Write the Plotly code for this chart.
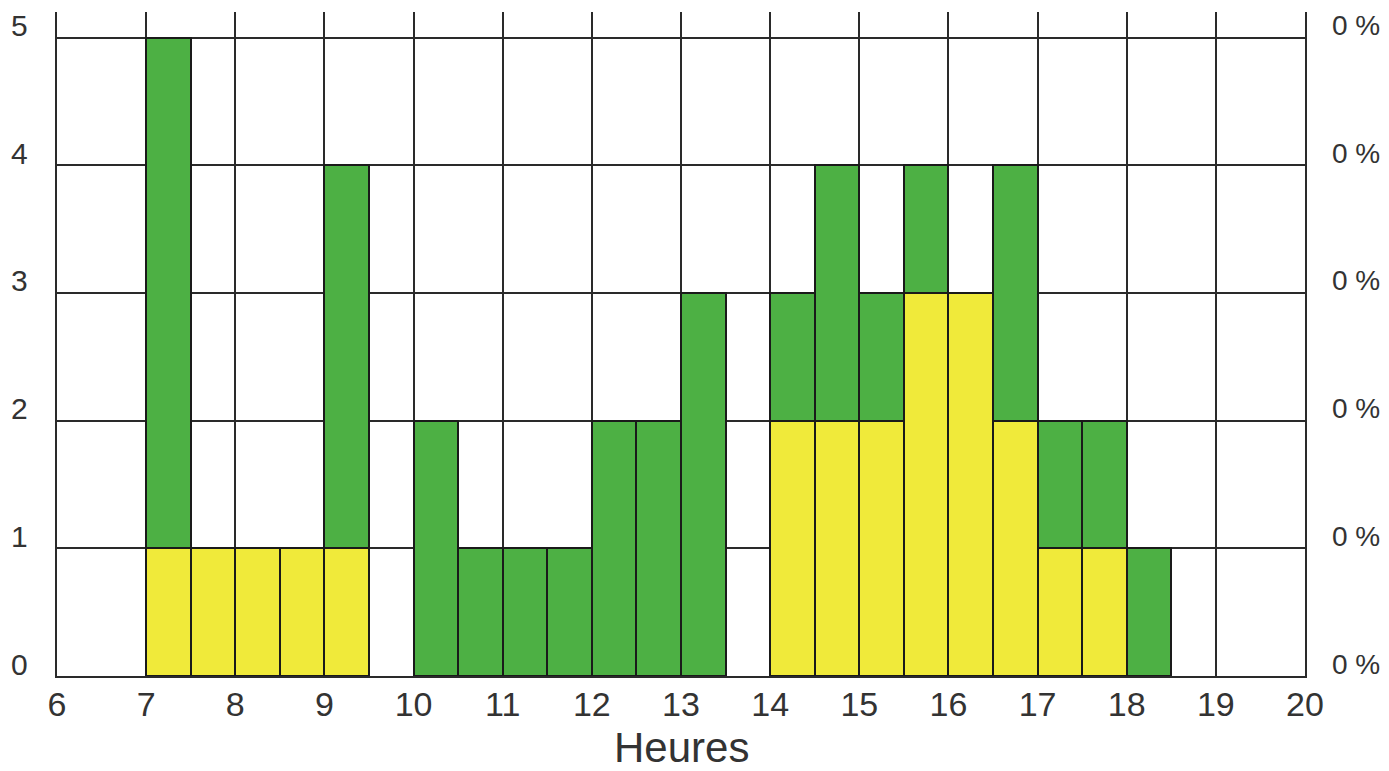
import plotly.graph_objects as go

# Début de chaque tranche d'une demi-heure
debut = [7.0, 7.5, 8.0, 8.5, 9.0, 9.5, 10.0, 10.5, 11.0, 11.5, 12.0, 12.5,
         13.0, 13.5, 14.0, 14.5, 15.0, 15.5, 16.0, 16.5, 17.0, 17.5, 18.0]
# Effectifs (partie jaune en bas, partie verte empilée au-dessus)
jaune = [1, 1, 1, 1, 1, 0, 0, 0, 0, 0, 0, 0,
         0, 0, 2, 2, 2, 3, 3, 2, 1, 1, 0]
vert = [4, 0, 0, 0, 3, 0, 2, 1, 1, 1, 2, 2,
        3, 0, 1, 2, 1, 1, 0, 2, 1, 1, 1]

y_ticks = [0, 1, 2, 3, 4, 5]
y_labels = ['0', '1', '2', '3', '4', '5']
pct_labels = ['0 %'] * 6

fig = go.Figure()

fig.add_trace(go.Bar(
    x=debut,
    y=[v if v else None for v in jaune],
    width=0.5,
    offset=0,
    marker=dict(color='#F0EA3A', line=dict(color='#1a1a1a', width=2)),
    hoverinfo='skip'
))
fig.add_trace(go.Bar(
    x=debut,
    y=[v if v else None for v in vert],
    width=0.5,
    offset=0,
    marker=dict(color='#4DB044', line=dict(color='#1a1a1a', width=2)),
    hoverinfo='skip'
))

font = dict(family='Liberation Sans, Arial, sans-serif', color='#333333')

# étiquettes des axes verticaux posées juste au-dessus des lignes
for val, lab, pct in zip(y_ticks, y_labels, pct_labels):
    fig.add_annotation(x=-0.0215, y=val, xref='paper', yref='y', text=lab,
                       showarrow=False, xanchor='right', yanchor='middle',
                       yshift=12, font=dict(size=30))
    fig.add_annotation(x=1.0200, y=val, xref='paper', yref='y', text=pct,
                       showarrow=False, xanchor='left', yanchor='middle',
                       yshift=12, font=dict(size=28))

fig.add_annotation(x=0.5, y=-0.107, xref='paper', yref='paper', text='Heures',
                   showarrow=False, xanchor='center', yanchor='middle',
                   font=dict(size=42))

# la page ajoute une marge de 8 px autour du graphique
fig.update_layout(
    barmode='stack',
    showlegend=False,
    width=1381,
    height=763,
    paper_bgcolor='white',
    plot_bgcolor='white',
    margin=dict(l=49, r=84, t=4, b=95),
    font=font,
    xaxis=dict(
        range=[6, 20],
        tickmode='linear',
        tick0=6,
        dtick=1,
        automargin=False,
        showgrid=True,
        gridcolor='#2a2a2a',
        gridwidth=1.5,
        showline=True,
        linecolor='#2a2a2a',
        linewidth=1.5,
        zeroline=False,
        ticks='',
        ticklabelstandoff=-3,
        tickfont=dict(size=34)
    ),
    yaxis=dict(
        range=[0, 5.2],
        tickvals=y_ticks,
        showticklabels=False,
        automargin=False,
        showgrid=True,
        gridcolor='#2a2a2a',
        gridwidth=1.5,
        showline=True,
        mirror=True,
        linecolor='#2a2a2a',
        linewidth=1.5,
        zeroline=False,
        ticks=''
    )
)

fig.write_html("out.html")
